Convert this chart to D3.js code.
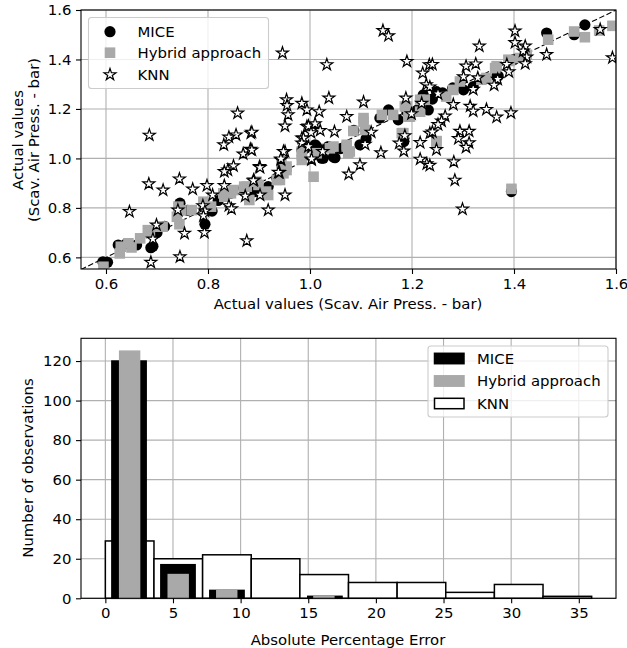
<!DOCTYPE html>
<html><head><meta charset="utf-8">
<script src="https://cdn.jsdelivr.net/npm/d3@7"></script>
<style>
body{margin:0;background:#fff;}
text{font-family:"DejaVu Sans",sans-serif;}
</style></head>
<body><svg id="chart" width="627" height="648"></svg>
<script>
// ---------- DATA ----------
const seriesNames = ["MICE", "Hybrid approach", "KNN"];
const miceXY = [[0.594,0.582],[0.603,0.580],[0.624,0.650],[0.640,0.655],[0.660,0.650],[0.688,0.639],[0.692,0.645],[0.700,0.700],[0.715,0.725],[0.745,0.819],[0.742,0.780],[0.760,0.790],[0.794,0.734],[0.808,0.787],[0.820,0.830],[0.845,0.860],[0.870,0.880],[0.892,0.866],[0.912,0.855],[0.918,0.886],[0.935,0.920],[0.950,0.960],[0.984,1.034],[0.990,1.040],[1.010,1.055],[1.013,1.048],[1.023,1.001],[1.026,1.001],[1.036,1.048],[1.046,1.006],[1.049,1.003],[1.060,1.040],[1.086,1.113],[1.098,1.055],[1.110,1.080],[1.137,1.163],[1.154,1.196],[1.173,1.156],[1.184,1.068],[1.184,1.082],[1.190,1.190],[1.210,1.195],[1.222,1.257],[1.232,1.196],[1.240,1.240],[1.248,1.270],[1.260,1.265],[1.280,1.285],[1.301,1.277],[1.320,1.290],[1.340,1.320],[1.366,1.331],[1.369,1.333],[1.395,0.866],[1.400,1.400],[1.420,1.415],[1.464,1.507],[1.518,1.500],[1.539,1.540]];
const hybridXY = [[0.595,0.562],[0.627,0.616],[0.629,0.643],[0.644,0.657],[0.650,0.640],[0.667,0.677],[0.682,0.710],[0.686,0.700],[0.706,0.724],[0.711,0.724],[0.739,0.764],[0.744,0.734],[0.742,0.805],[0.747,0.790],[0.768,0.791],[0.791,0.825],[0.793,0.819],[0.806,0.805],[0.830,0.859],[0.832,0.845],[0.845,0.859],[0.850,0.872],[0.871,0.886],[0.876,0.886],[0.881,0.832],[0.895,0.906],[0.899,0.893],[0.914,0.866],[0.918,0.852],[0.935,0.913],[0.941,0.913],[0.944,0.980],[0.948,0.940],[0.954,0.953],[0.954,0.967],[0.984,0.994],[0.984,1.014],[0.984,1.028],[1.007,0.926],[1.013,1.021],[1.039,1.041],[1.046,1.048],[1.072,1.048],[1.075,1.021],[1.072,1.055],[1.078,1.028],[1.085,1.111],[1.105,1.149],[1.105,1.163],[1.108,1.115],[1.141,1.176],[1.163,1.176],[1.180,1.102],[1.183,1.102],[1.186,1.210],[1.190,1.210],[1.193,1.169],[1.196,1.169],[1.216,1.189],[1.216,1.237],[1.225,1.237],[1.248,1.068],[1.248,1.070],[1.267,1.250],[1.281,1.277],[1.294,1.311],[1.336,1.318],[1.346,1.325],[1.363,1.365],[1.366,1.373],[1.389,1.399],[1.392,1.394],[1.412,1.406],[1.425,1.419],[1.395,0.877],[1.467,1.480],[1.518,1.513],[1.539,1.490],[1.567,1.517],[1.593,1.536]];
const knnXY = [[0.858,1.183],[0.685,1.094],[0.884,1.102],[0.855,1.095],[0.841,1.086],[0.831,1.055],[0.883,1.037],[0.869,1.018],[0.901,0.967],[0.850,0.970],[0.839,0.953],[0.832,0.947],[0.684,0.897],[0.744,0.917],[0.712,0.872],[0.770,0.876],[0.798,0.890],[0.809,0.852],[0.832,0.890],[0.890,0.913],[0.873,0.848],[0.646,0.785],[0.741,0.791],[0.790,0.809],[0.794,0.787],[0.791,0.768],[0.841,0.809],[0.846,0.796],[0.699,0.731],[0.754,0.697],[0.793,0.700],[0.692,0.674],[0.876,0.667],[0.688,0.580],[0.745,0.602],
[0.946,1.426],[0.902,0.852],[0.918,0.791],[0.940,0.943],[0.943,0.994],[0.951,1.028],[0.951,0.852],[0.954,1.237],[0.955,1.214],[0.957,1.176],[0.951,1.131],[0.984,1.223],[0.994,1.196],[0.984,1.082],[0.994,1.129],[1.003,0.994],
[1.143,1.517],[1.154,1.496],[1.190,1.392],[1.221,1.345],[1.234,1.379],[1.228,1.298],[1.033,1.379],[1.037,1.244],[1.018,1.189],[1.072,1.169],[1.105,1.228],[1.188,1.244],[1.199,1.180],[1.219,1.223],[0.997,1.131],[1.010,1.140],[1.020,1.113],[1.002,1.104],[0.987,1.082],[0.984,1.062],[0.997,1.048],[1.048,1.108],[1.120,1.106],[1.108,1.057],[1.025,1.028],[1.003,0.998],[0.948,1.028],[0.943,0.998],[0.902,0.963],[0.886,1.106],[0.886,1.034],[0.889,0.910],[0.938,0.944],[1.076,0.937],[1.098,0.974],[1.139,1.023],[1.186,1.092],[1.175,1.062],[1.184,1.030],[1.216,1.064],[1.216,0.997],[1.229,0.978],[1.235,1.102],
[1.402,1.515],[1.402,1.468],[1.332,1.454],[1.422,1.454],[1.418,1.434],[1.425,1.410],[1.422,1.383],[1.464,1.420],[1.569,1.521],[1.593,1.407],[1.240,1.380],[1.306,1.373],[1.325,1.382],[1.301,1.330],[1.329,1.326],[1.386,1.380],[1.390,1.350],[1.368,1.320],[1.361,1.296],[1.320,1.279],[1.251,1.261],[1.281,1.218],[1.314,1.211],[1.320,1.191],[1.346,1.198],[1.366,1.167],[1.394,1.184],[1.265,1.171],[1.258,1.151],[1.251,1.137],[1.240,1.107],[1.294,1.110],[1.312,1.110],[1.291,1.080],[1.312,1.063],[1.306,1.045],[1.248,1.036],[1.235,0.972],[1.282,0.986],[1.284,0.912],[1.299,0.795],[1.235,1.289]];
const scatterTicks = [0.6, 0.8, 1.0, 1.2, 1.4, 1.6];

// histogram: counts per bin, bin start and bin width (in % error)
const knnCounts = [29, 20, 22, 20, 12, 8, 8, 3, 7, 1];
const miceCounts = [120, 17, 4, 0, 1, 0, 0, 0, 0, 0];
const hybridCounts = [125, 12, 4, 0, 1, 0, 0, 0, 0, 0];
const knnBins = {start: 0, width: 3.595, rwidth: 1.0};
const miceBins = {start: -0.06, width: 3.62, rwidth: 0.7};
const hybridBins = {start: 0, width: 3.59, rwidth: 0.41};
const histXTicks = [0, 5, 10, 15, 20, 25, 30, 35];
const histYTicks = [0, 20, 40, 60, 80, 100, 120];

// ---------- DRAW ----------
const svg = d3.select("#chart");
const FS = 14.9;
const GRID = "#b0b0b0";
const GRAY = "#a9a9a9";

function drawGrid(g, x, y, xt, yt) {
  const [x0, x1] = x.range(), [y0, y1] = y.range();
  g.append("g").selectAll("line").data(xt).join("line")
    .attr("x1", d => x(d)).attr("x2", d => x(d)).attr("y1", y0).attr("y2", y1)
    .attr("stroke", GRID).attr("stroke-width", 1.1);
  g.append("g").selectAll("line").data(yt).join("line")
    .attr("y1", d => y(d)).attr("y2", d => y(d)).attr("x1", x0).attr("x2", x1)
    .attr("stroke", GRID).attr("stroke-width", 1.1);
}
function drawAxes(g, x, y, xt, yt, xf, yf) {
  const [x0, x1] = x.range(), [y0, y1] = y.range();
  const ax = g.append("g").attr("transform", `translate(0,${y0})`)
    .call(d3.axisBottom(x).tickValues(xt).tickFormat(xf).tickSize(5).tickPadding(4.5));
  const ay = g.append("g").attr("transform", `translate(${x0},0)`)
    .call(d3.axisLeft(y).tickValues(yt).tickFormat(yf).tickSize(5).tickPadding(4.5));
  [ax, ay].forEach(a => {
    a.select(".domain").remove();
    a.selectAll("text").attr("font-size", FS).attr("fill", "#000").style("font-family", "DejaVu Sans");
    a.selectAll("line").attr("stroke", "#000").attr("stroke-width", 1.1);
  });
  g.append("rect").attr("x", x0).attr("y", y1).attr("width", x1 - x0).attr("height", y0 - y1)
    .attr("fill", "none").attr("stroke", "#000").attr("stroke-width", 1.1);
}

// ----- Top scatter -----
const xs = d3.scaleLinear().domain([0.551, 1.6]).range([81, 616]);
const ys = d3.scaleLinear().domain([0.553, 1.6]).range([269, 10]);
const topG = svg.append("g");
drawGrid(topG, xs, ys, scatterTicks, scatterTicks);
svg.append("clipPath").attr("id", "c1").append("rect")
  .attr("x", 81).attr("y", 10).attr("width", 535).attr("height", 259);
const plotG = topG.append("g").attr("clip-path", "url(#c1)");
plotG.append("line").attr("x1", xs(0.551)).attr("y1", ys(0.551)).attr("x2", xs(1.6)).attr("y2", ys(1.6))
  .attr("stroke", "#000").attr("stroke-width", 1.1).attr("stroke-dasharray", "5.5,2.5");
plotG.append("g").selectAll("circle").data(miceXY).join("circle")
  .attr("cx", d => xs(d[0])).attr("cy", d => ys(d[1])).attr("r", 5.6).attr("fill", "#000");
plotG.append("g").selectAll("rect").data(hybridXY).join("rect")
  .attr("x", d => xs(d[0]) - 5.3).attr("y", d => ys(d[1]) - 5.3).attr("width", 10.6).attr("height", 10.6)
  .attr("fill", GRAY);
const star = d3.symbol().type(d3.symbolStar).size(44);
plotG.append("g").selectAll("path").data(knnXY).join("path")
  .attr("transform", d => `translate(${xs(d[0])},${ys(d[1])})`).attr("d", star)
  .attr("fill", "#fff").attr("stroke", "#000").attr("stroke-width", 1.2).attr("stroke-linejoin", "miter");
const f1 = d3.format(".1f");
drawAxes(topG, xs, ys, scatterTicks, scatterTicks, f1, f1);
topG.append("text").attr("x", 348).attr("y", 309).attr("text-anchor", "middle").attr("font-size", FS)
  .text("Actual values (Scav. Air Press. - bar)");
const yl = topG.append("text").attr("transform", "translate(23,140) rotate(-90)").attr("text-anchor", "middle").attr("font-size", FS);
yl.append("tspan").attr("x", 0).attr("dy", 0).text("Actual values");
yl.append("tspan").attr("x", 0).attr("dy", 16).text("(Scav. Air Press. - bar)");

// top legend
const lg = topG.append("g");
lg.append("rect").attr("x", 88.5).attr("y", 17.5).attr("width", 180).attr("height", 71).attr("rx", 3)
  .attr("fill", "#fff").attr("fill-opacity", 0.8).attr("stroke", "#cccccc").attr("stroke-width", 1.1);
const legRows = [31.7, 52.7, 74.7];
lg.append("circle").attr("cx", 110).attr("cy", legRows[0]).attr("r", 5.6).attr("fill", "#000");
lg.append("rect").attr("x", 110 - 5.3).attr("y", legRows[1] - 5.3).attr("width", 10.6).attr("height", 10.6).attr("fill", GRAY);
lg.append("path").attr("transform", `translate(110,${legRows[2]})`).attr("d", star)
  .attr("fill", "#fff").attr("stroke", "#000").attr("stroke-width", 1.2);
seriesNames.forEach((n, i) => lg.append("text").attr("x", 137.5).attr("y", legRows[i]).attr("dy", "0.36em")
  .attr("font-size", FS).text(n));

// ----- Bottom histogram -----
const xh = d3.scaleLinear().domain([-1.8, 37.75]).range([81, 616]);
const yh = d3.scaleLinear().domain([0, 131.5]).range([598.3, 338.3]);
const botG = svg.append("g");
drawGrid(botG, xh, yh, histXTicks, histYTicks);
function bars(counts, bins, fill, stroke) {
  const data = counts.map((c, i) => ({c, x0: bins.start + i * bins.width + bins.width * (1 - bins.rwidth) / 2,
    x1: bins.start + (i + 1) * bins.width - bins.width * (1 - bins.rwidth) / 2}));
  botG.append("g").selectAll("rect").data(data).join("rect")
    .attr("x", d => xh(d.x0)).attr("width", d => xh(d.x1) - xh(d.x0))
    .attr("y", d => yh(d.c)).attr("height", d => yh(0) - yh(d.c))
    .attr("fill", fill).attr("stroke", stroke).attr("stroke-width", 1.5);
}
bars(knnCounts, knnBins, "#fff", "#000");
bars(miceCounts, miceBins, "#000", "#000");
bars(hybridCounts, hybridBins, GRAY, GRAY);
drawAxes(botG, xh, yh, histXTicks, histYTicks, d3.format("d"), d3.format("d"));
botG.append("text").attr("x", 348).attr("y", 645).attr("text-anchor", "middle").attr("font-size", FS)
  .text("Absolute Percentage Error");
botG.append("text").attr("transform", "translate(33,468) rotate(-90)").attr("text-anchor", "middle").attr("font-size", FS)
  .text("Number of observations");

// bottom legend
const lb = botG.append("g");
lb.append("rect").attr("x", 428).attr("y", 346).attr("width", 180).attr("height", 71).attr("rx", 3)
  .attr("fill", "#fff").attr("fill-opacity", 0.8).attr("stroke", "#cccccc").attr("stroke-width", 1.1);
const hRows = [358.5, 381, 403.5];
const hFill = ["#000", GRAY, "#fff"], hStroke = ["#000", GRAY, "#000"];
seriesNames.forEach((n, i) => {
  lb.append("rect").attr("x", 434.5).attr("y", hRows[i] - 5.2).attr("width", 29.5).attr("height", 10.4)
    .attr("fill", hFill[i]).attr("stroke", hStroke[i]).attr("stroke-width", 1.5);
  lb.append("text").attr("x", 477).attr("y", hRows[i]).attr("dy", "0.36em").attr("font-size", FS).text(n);
});
</script></body></html>
